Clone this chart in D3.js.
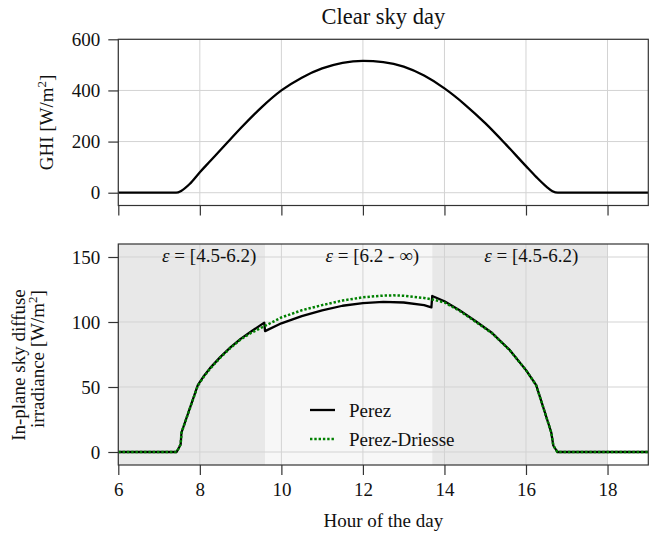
<!DOCTYPE html>
<html>
<head>
<meta charset="utf-8">
<script src="https://cdn.jsdelivr.net/npm/d3@7"></script>
<style>
  body { margin: 0; background: #fff; }
  text { font-family: "Liberation Serif", "DejaVu Serif", serif; fill: #111; }
</style>
</head>
<body>
<svg id="chart" width="656" height="534"></svg>
<script>
'use strict'

// ---- data ----
const ghiHours  = [6, 7, 7.42, 7.55, 7.75, 8, 8.25, 8.5, 8.75, 9, 9.5, 10, 10.5, 11, 11.5, 12, 12.5, 13, 13.5, 14, 14.5, 15, 15.5, 16, 16.25, 16.5, 16.65, 16.78, 18, 19];
const ghiValues = [0, 0, 0, 8, 34, 80, 123, 166, 209, 252, 332, 400, 450, 486, 508, 516, 511, 493, 458, 408, 345, 272, 190, 104, 62, 24, 6, 0, 0, 0];

const perezHours  = [6, 7.43, 7.5, 7.53, 7.55, 7.95, 8.1, 8.25, 8.5, 8.75, 9, 9.25, 9.58, 9.6, 10, 10.5, 11, 11.5, 12, 12.5, 13, 13.5, 13.68, 13.7, 14, 14.35, 14.75, 15.17, 15.6, 16, 16.25, 16.62, 16.67, 16.77, 19];
const perezValues = [0, 0, 4, 6, 15, 51.5, 58.5, 64.5, 73, 80.5, 87, 92.5, 99.5, 93, 99, 104.5, 109, 112.5, 114.5, 115.5, 115, 113, 111.3, 120, 116, 109.5, 101, 91.5, 78.5, 63, 51.5, 15, 5, 0, 0];

const driesseHours  = [6, 7.43, 7.5, 7.53, 7.55, 7.95, 8.1, 8.25, 8.5, 8.75, 9, 9.25, 9.6, 10, 10.5, 11, 11.5, 12, 12.5, 12.75, 13, 13.5, 13.75, 14, 14.35, 14.75, 15.17, 15.6, 16, 16.25, 16.62, 16.67, 16.77, 19];
const driesseValues = [0, 0, 4, 6, 15, 51, 58, 64, 72.5, 80, 86.5, 91.5, 97, 103.5, 109, 113, 116.5, 119, 120.3, 120.5, 120.2, 118.5, 117, 115, 109, 100.5, 91.3, 78.3, 63, 51.3, 15, 5, 0, 0];

const regionStart  = [6, 9.6, 13.7];
const regionEnd    = [9.6, 13.7, 18];
const regionFill   = ['#e8e8e8', '#f7f7f7', '#e8e8e8'];
const regionLabelX = [8.23, 12.23, 16.13];
const regionRanges = ['[4.5-6.2)', '[6.2 - \u221e)', '[4.5-6.2)'];

const xTicks      = [6, 8, 10, 12, 14, 16, 18];
const ghiTicks    = [0, 200, 400, 600];
const diffTicks   = [0, 50, 100, 150];
const legendNames = ['Perez', 'Perez-Driesse'];

// ---- layout ----
const left = 118.3, right = 648.3;
const svg = d3.select('#chart');

const x = d3.scaleLinear().domain([6, 19]).range([left, right]);
const yTop = d3.scaleLinear().domain([-50, 600]).range([205.5, 39.3]);
const yBot = d3.scaleLinear().domain([-10, 160]).range([465, 244]);

const gridColor = '#d3d3d3',
	spineColor = '#333';

function drawGrid(g, y, yt) {
	g.append('g').selectAll('line').data(xTicks).join('line')
		.attr('x1', d => x(d)).attr('x2', d => x(d))
		.attr('y1', y.range()[0]).attr('y2', y.range()[1])
		.attr('stroke', gridColor).attr('stroke-width', 1);
	g.append('g').selectAll('line').data(yt).join('line')
		.attr('x1', left).attr('x2', right)
		.attr('y1', d => y(d)).attr('y2', d => y(d))
		.attr('stroke', gridColor).attr('stroke-width', 1);
}

function drawAxes(g, y, yt, showXLabels) {
	let ya = g.append('g')
		.attr('transform', `translate(${left},0)`)
		.call(d3.axisLeft(y).tickValues(yt).tickSize(10).tickPadding(8).tickFormat(d3.format('d')));
	let xa = g.append('g')
		.attr('transform', `translate(0,${y.range()[0]})`)
		.call(d3.axisBottom(x).tickValues(xTicks).tickSize(10).tickPadding(8)
			.tickFormat(showXLabels ? d3.format('d') : ''));
	[ya, xa].forEach(a => {
		a.select('.domain').remove();
		a.selectAll('line').attr('stroke', spineColor).attr('stroke-width', 1.2);
		a.selectAll('text').attr('font-size', 19).attr('font-family', '"Liberation Serif", serif').attr('fill', '#111');
	});
	// frame
	g.append('rect')
		.attr('x', left).attr('y', y.range()[1])
		.attr('width', right - left).attr('height', y.range()[0] - y.range()[1])
		.attr('fill', 'none').attr('stroke', spineColor).attr('stroke-width', 1.2);
}

function clip(id, y) {
	svg.append('clipPath').attr('id', id).append('rect')
		.attr('x', left).attr('y', y.range()[1])
		.attr('width', right - left).attr('height', y.range()[0] - y.range()[1]);
}
clip('clipTop', yTop);
clip('clipBot', yBot);

// ---- top panel: GHI ----
const topPanel = svg.append('g');
drawGrid(topPanel, yTop, ghiTicks);

const ghiLine = d3.line()
	.x((d, i) => x(ghiHours[i]))
	.y(d => yTop(d))
	.curve(d3.curveMonotoneX);

topPanel.append('path')
	.datum(ghiValues)
	.attr('clip-path', 'url(#clipTop)')
	.attr('d', ghiLine)
	.attr('fill', 'none')
	.attr('stroke', '#000')
	.attr('stroke-width', 2.3);

drawAxes(topPanel, yTop, ghiTicks, false);

svg.append('text')
	.attr('x', (left + right) / 2).attr('y', 24)
	.attr('text-anchor', 'middle').attr('font-size', 22.5)
	.text('Clear sky day');

let ghiLabel = svg.append('text')
	.attr('transform', `translate(53,${(yTop.range()[0] + yTop.range()[1]) / 2}) rotate(-90)`)
	.attr('text-anchor', 'middle').attr('font-size', 19);
ghiLabel.append('tspan').text('GHI [W/m');
ghiLabel.append('tspan').attr('font-size', 13).attr('dy', -7).text('2');
ghiLabel.append('tspan').attr('dy', 7).text(']');

// ---- bottom panel: in-plane sky diffuse ----
const botPanel = svg.append('g');

botPanel.append('g').selectAll('rect').data(regionStart).join('rect')
	.attr('x', d => x(d))
	.attr('width', (d, i) => x(regionEnd[i]) - x(d))
	.attr('y', yBot.range()[1])
	.attr('height', yBot.range()[0] - yBot.range()[1])
	.attr('fill', (d, i) => regionFill[i]);

drawGrid(botPanel, yBot, diffTicks);

const eps = botPanel.append('g').selectAll('text').data(regionLabelX).join('text')
	.attr('x', d => x(d)).attr('y', 262)
	.attr('text-anchor', 'middle').attr('font-size', 19);
eps.append('tspan').attr('font-style', 'italic').text('\u03b5');
eps.append('tspan').text((d, i) => ' = ' + regionRanges[i]);

// piecewise model output: straight segments, sharp corners
const diffLine = hours => d3.line()
	.x((d, i) => x(hours[i]))
	.y(d => yBot(d));

botPanel.append('path')
	.datum(perezValues)
	.attr('clip-path', 'url(#clipBot)')
	.attr('d', diffLine(perezHours))
	.attr('fill', 'none')
	.attr('stroke', '#000')
	.attr('stroke-width', 2.3)
	.attr('stroke-linejoin', 'round');

botPanel.append('path')
	.datum(driesseValues)
	.attr('clip-path', 'url(#clipBot)')
	.attr('d', diffLine(driesseHours))
	.attr('fill', 'none')
	.attr('stroke', '#008000')
	.attr('stroke-width', 2.5)
	.attr('stroke-dasharray', '2.4,1.9');

drawAxes(botPanel, yBot, diffTicks, true);

// legend
const legend = botPanel.append('g').attr('transform', 'translate(310,410)');
legendNames.forEach((name, i) => {
	let row = legend.append('g').attr('transform', `translate(0,${i * 29})`);
	row.append('line')
		.attr('x1', 0).attr('x2', 25).attr('y1', 0).attr('y2', 0)
		.attr('stroke', i === 0 ? '#000' : '#008000')
		.attr('stroke-width', i === 0 ? 2.3 : 2.5)
		.attr('stroke-dasharray', i === 0 ? null : '2.4,1.9');
	row.append('text')
		.attr('x', 39).attr('y', 6.5)
		.attr('font-size', 19)
		.text(name);
});

// axis labels
svg.append('text')
	.attr('x', (left + right) / 2).attr('y', 527)
	.attr('text-anchor', 'middle').attr('font-size', 19)
	.text('Hour of the day');

svg.append('text')
	.attr('transform', 'translate(25,365) rotate(-90)')
	.attr('text-anchor', 'middle').attr('font-size', 19)
	.text('In-plane sky diffuse');

let irrLabel = svg.append('text')
	.attr('transform', 'translate(44,359) rotate(-90)')
	.attr('text-anchor', 'middle').attr('font-size', 19);
irrLabel.append('tspan').text('irradiance [W/m');
irrLabel.append('tspan').attr('font-size', 13).attr('dy', -7).text('2');
irrLabel.append('tspan').attr('dy', 7).text(']');
</script>
</body>
</html>
